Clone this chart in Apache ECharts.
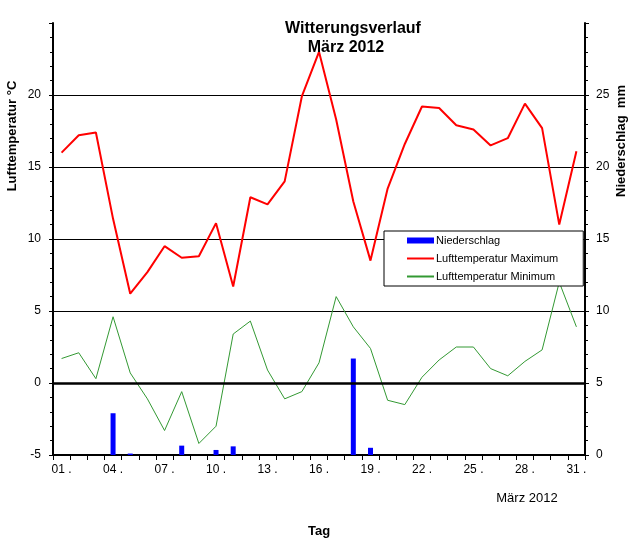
<!DOCTYPE html>
<html>
<head>
<meta charset="utf-8">
<script src="https://cdn.jsdelivr.net/npm/echarts@6/dist/echarts.min.js"></script>
<style>html,body{margin:0;padding:0;background:#fff}#c{width:634px;height:544px}</style>
</head>
<body>
<div id="c"></div>
<script>
const days = ['01','02','03','04','05','06','07','08','09','10','11','12','13','14','15','16','17','18','19','20','21','22','23','24','25','26','27','28','29','30','31'];
const tempMax = [16.0,17.2,17.4,11.4,6.2,7.7,9.5,8.7,8.8,11.1,6.7,12.9,12.4,14.0,19.9,23.0,18.3,12.6,8.5,13.5,16.6,19.2,19.1,17.9,17.6,16.5,17.0,19.4,17.7,11.0,16.1];
const tempMin = [1.7,2.1,0.3,4.6,0.7,-1.1,-3.3,-0.6,-4.2,-3.0,3.4,4.3,0.9,-1.1,-0.6,1.4,6.0,3.9,2.4,-1.2,-1.5,0.4,1.6,2.5,2.5,1.0,0.5,1.5,2.3,7.0,3.9];
const precip = [0,0,0,2.9,0.1,0,0,0.65,0,0.35,0.6,0,0,0,0,0,0,6.7,0.5,0,0,0,0,0,0,0,0,0,0,0,0];
const tempTicks = [-5,0,5,10,15,20,25];
const precipTicks = [0,5,10,15,20,25,30];

const FONT = 'Liberation Sans, Arial, sans-serif';
const chart = echarts.init(document.getElementById('c'), null, {renderer:'canvas'});
chart.setOption({
  backgroundColor:'#fff',
  animation:false,
  title:[
    {text:'Witterungsverlauf', left:348, top:16, textAlign:'center', textStyle:{fontFamily:FONT, fontSize:16, fontWeight:'bold', color:'#000'}},
    {text:'März 2012', left:341, top:35, textAlign:'center', textStyle:{fontFamily:FONT, fontSize:16, fontWeight:'bold', color:'#000'}}
  ],
  grid:{left:53, right:49, top:23, bottom:89, containLabel:false, outerBoundsMode:'none'},
  legend:{
    orient:'vertical', left:384, top:231,
    backgroundColor:'#fff', borderColor:'#000', borderWidth:1, borderRadius:0,
    padding:[4,25,4,22], itemWidth:27, itemHeight:6, itemGap:7,
    textStyle:{fontFamily:FONT, fontSize:11, color:'#000', padding:[0,0,0,-3]},
    data:[
      {name:'Niederschlag', icon:'rect'},
      {name:'Lufttemperatur Maximum', itemStyle:{opacity:0}},
      {name:'Lufttemperatur Minimum', itemStyle:{opacity:0}}
    ]
  },
  xAxis:{
    type:'category', data:days, boundaryGap:true,
    name:'Tag', nameLocation:'middle', nameGap:70,
    nameTextStyle:{fontFamily:FONT, fontSize:13, fontWeight:'bold', color:'#000'},
    axisLine:{show:true, onZero:false, lineStyle:{color:'#000', width:2}},
    axisTick:{show:true, inside:false, length:5, interval:0, alignWithLabel:false, lineStyle:{color:'#000', width:1}},
    axisLabel:{interval:function(i){return i%3===0;}, formatter:function(v){return v+' .';}, margin:9, fontFamily:FONT, fontSize:12, color:'#000'},
    splitLine:{show:false}
  },
  yAxis:[
    {
      type:'value', min:tempTicks[0], max:tempTicks[tempTicks.length-1], interval:5, position:'left',
      axisLine:{show:true, lineStyle:{color:'#000', width:2}},
      axisTick:{show:true, length:4, lineStyle:{color:'#000', width:1}},
      minorTick:{show:true, splitNumber:5, length:3, lineStyle:{color:'#000', width:1}},
      axisLabel:{showMaxLabel:false, margin:12, fontFamily:FONT, fontSize:12, color:'#000'},
      splitLine:{show:true, showMinLine:false, showMaxLine:false, lineStyle:{color:'#000', width:1}}
    },
    {
      type:'value', min:precipTicks[0], max:precipTicks[precipTicks.length-1], interval:5, position:'right',
      axisLine:{show:true, lineStyle:{color:'#000', width:2}},
      axisTick:{show:true, length:4, lineStyle:{color:'#000', width:1}},
      minorTick:{show:true, splitNumber:5, length:3, lineStyle:{color:'#000', width:1}},
      axisLabel:{showMaxLabel:false, margin:11, fontFamily:FONT, fontSize:12, color:'#000'},
      splitLine:{show:false}
    }
  ],
  series:[
    {name:'Niederschlag', type:'bar', yAxisIndex:1, data:precip, barWidth:5, itemStyle:{color:'#0000FF'}, z:2},
    {name:'Lufttemperatur Maximum', type:'line', yAxisIndex:0, data:tempMax, symbol:'none', showSymbol:false,
      lineStyle:{color:'#FF0000', width:2}, itemStyle:{color:'#FF0000'}, z:3},
    {name:'Lufttemperatur Minimum', type:'line', yAxisIndex:0, data:tempMin, symbol:'none', showSymbol:false,
      lineStyle:{color:'#339933', width:1}, itemStyle:{color:'#339933'}, z:3,
      markLine:{silent:true, symbol:['none','none'], label:{show:false}, lineStyle:{color:'#000', width:2.5, type:'solid'},
        data:[{yAxis:0}]}}
  ],
  graphic:[
    {type:'text', x:12, y:136, rotation:Math.PI/2, style:{text:'Lufttemperatur °C', font:'bold 13px '+FONT, fill:'#000', textAlign:'center', textVerticalAlign:'middle'}},
    {type:'text', x:621, y:141, rotation:Math.PI/2, style:{text:'Niederschlag  mm', font:'bold 13px '+FONT, fill:'#000', textAlign:'center', textVerticalAlign:'middle'}},
    {type:'text', x:527, y:498, style:{text:'März 2012', font:'13px '+FONT, fill:'#000', textAlign:'center', textVerticalAlign:'middle'}}
  ]
});
</script>
</body>
</html>
